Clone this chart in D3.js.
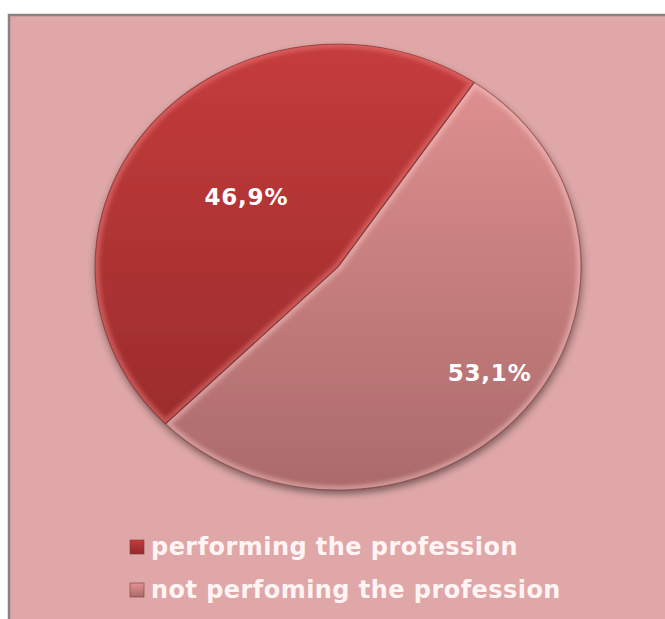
<!DOCTYPE html>
<html>
<head>
<meta charset="utf-8">
<script src="https://cdn.jsdelivr.net/npm/d3@7"></script>
<style>
  html, body { margin: 0; padding: 0; background: #ffffff; }
  svg { display: block; }
</style>
</head>
<body>
<svg id="chart" width="665" height="619"></svg>
<script>
// Share of graduates by whether they work in their profession
const categories = ["performing the profession", "not perfoming the profession"];
const shares = [46.9, 53.1];
const shareLabels = ["46,9%", "53,1%"];

// Slice colours: top and bottom stop of each slice's vertical gradient
const sliceTop = ["#c53c3c", "#e39393"];
const sliceBottom = ["#942929", "#ab6a6a"];

const W = 665, H = 619;
const svg = d3.select("#chart");
const defs = svg.append("defs");

// chart area frame
svg.append("rect")
  .attr("x", 9).attr("y", 15)
  .attr("width", W + 20).attr("height", H + 20)
  .attr("fill", "#dfa7a7")
  .attr("stroke", "#8b8380").attr("stroke-width", 2.5);

// Pie geometry (slightly flattened ellipse)
const cx = 338, cy = 267, rx = 243, ry = 223;
const R = rx;

const pie = d3.pie()
  .sort(null)
  .value(d => d)
  .startAngle((34.1 + 53.1 * 3.6) * Math.PI / 180)
  .endAngle((34.1 + 53.1 * 3.6 + 360) * Math.PI / 180);
const arcs = pie(shares);
const arc = d3.arc().innerRadius(0).outerRadius(R);

// gradients
shares.forEach((_, i) => {
  const g = defs.append("linearGradient")
    .attr("id", "grad" + i)
    .attr("gradientUnits", "userSpaceOnUse")
    .attr("x1", 0).attr("y1", -R).attr("x2", 0).attr("y2", R);
  g.append("stop").attr("offset", "0").attr("stop-color", sliceTop[i]);
  g.append("stop").attr("offset", "1").attr("stop-color", sliceBottom[i]);
});

// soft shadow under the pie
const shadow = defs.append("filter").attr("id", "shadow")
  .attr("x", "-20%").attr("y", "-20%").attr("width", "140%").attr("height", "140%");
shadow.append("feGaussianBlur").attr("in", "SourceAlpha").attr("stdDeviation", 4).attr("result", "b");
shadow.append("feOffset").attr("in", "b").attr("dx", 1).attr("dy", 4).attr("result", "o");
shadow.append("feComponentTransfer").attr("in", "o").attr("result", "s")
  .append("feFuncA").attr("type", "linear").attr("slope", 0.45);
const merge = shadow.append("feMerge");
merge.append("feMergeNode").attr("in", "s");
merge.append("feMergeNode").attr("in", "SourceGraphic");

const soften = defs.append("filter").attr("id", "soften")
  .attr("x", "-10%").attr("y", "-10%").attr("width", "120%").attr("height", "120%");
soften.append("feGaussianBlur").attr("stdDeviation", 2.2);

const pieG = svg.append("g")
  .attr("transform", `translate(${cx},${cy}) scale(1,${ry / rx})`);

const base = pieG.append("g").attr("filter", "url(#shadow)");
base.selectAll("path.slice")
  .data(arcs)
  .join("path")
  .attr("class", "slice")
  .attr("d", arc)
  .attr("fill", (d, i) => `url(#grad${i})`);

// bevel: light inner rim clipped to each slice
arcs.forEach((d, i) => {
  defs.append("clipPath").attr("id", "clip" + i)
    .append("path").attr("d", arc(d));
  const rim = pieG.append("g").attr("clip-path", `url(#clip${i})`);
  rim.append("path")
    .attr("d", arc(d))
    .attr("fill", "none")
    .attr("stroke", i === 0 ? "#f08080" : "#ffd0d0")
    .attr("stroke-opacity", i === 0 ? 0.5 : 0.45)
    .attr("stroke-width", 9)
    .attr("filter", "url(#soften)");
});

// thin dark slice outlines
pieG.selectAll("path.edge")
  .data(arcs)
  .join("path")
  .attr("class", "edge")
  .attr("d", arc)
  .attr("fill", "none")
  .attr("stroke", "#6a2424")
  .attr("stroke-opacity", 0.55)
  .attr("stroke-width", 1.1);

// value labels
const labelRadius = [0.49, 0.8];
const labelShift = [[0, 0], [2, -8]];
svg.selectAll("text.value")
  .data(arcs)
  .join("text")
  .attr("class", "value")
  .attr("x", (d, i) => {
    const a = (d.startAngle + d.endAngle) / 2;
    return cx + Math.sin(a) * R * labelRadius[i] + labelShift[i][0];
  })
  .attr("y", (d, i) => {
    const a = (d.startAngle + d.endAngle) / 2;
    return cy - Math.cos(a) * R * labelRadius[i] * (ry / rx) + labelShift[i][1];
  })
  .attr("text-anchor", "middle")
  .attr("dominant-baseline", "central")
  .attr("font-family", "'DejaVu Sans', sans-serif")
  .attr("font-weight", "bold")
  .attr("font-size", 23)
  .attr("letter-spacing", 0.8)
  .attr("fill", "#ffffff")
  .text((d, i) => shareLabels[i]);

// legend
const legend = svg.append("g");
const rowY = [547, 590];
categories.forEach((c, i) => {
  const gi = defs.append("linearGradient").attr("id", "lg" + i)
    .attr("x1", 0).attr("y1", 0).attr("x2", 0).attr("y2", 1);
  gi.append("stop").attr("offset", "0").attr("stop-color", sliceTop[i]);
  gi.append("stop").attr("offset", "1").attr("stop-color", sliceBottom[i]);
  legend.append("rect")
    .attr("x", 130).attr("y", rowY[i] - 7)
    .attr("width", 14).attr("height", 14)
    .attr("fill", `url(#lg${i})`)
    .attr("stroke", "#7a3a3a").attr("stroke-width", 0.6);
  legend.append("text")
    .attr("x", 151).attr("y", rowY[i])
    .attr("dominant-baseline", "central")
    .attr("font-family", "'DejaVu Sans', sans-serif")
    .attr("font-weight", "bold")
    .attr("font-size", 24)
    .attr("letter-spacing", 0.45)
    .attr("fill", "#fff4f4")
    .text(c);
});
</script>
</body>
</html>
